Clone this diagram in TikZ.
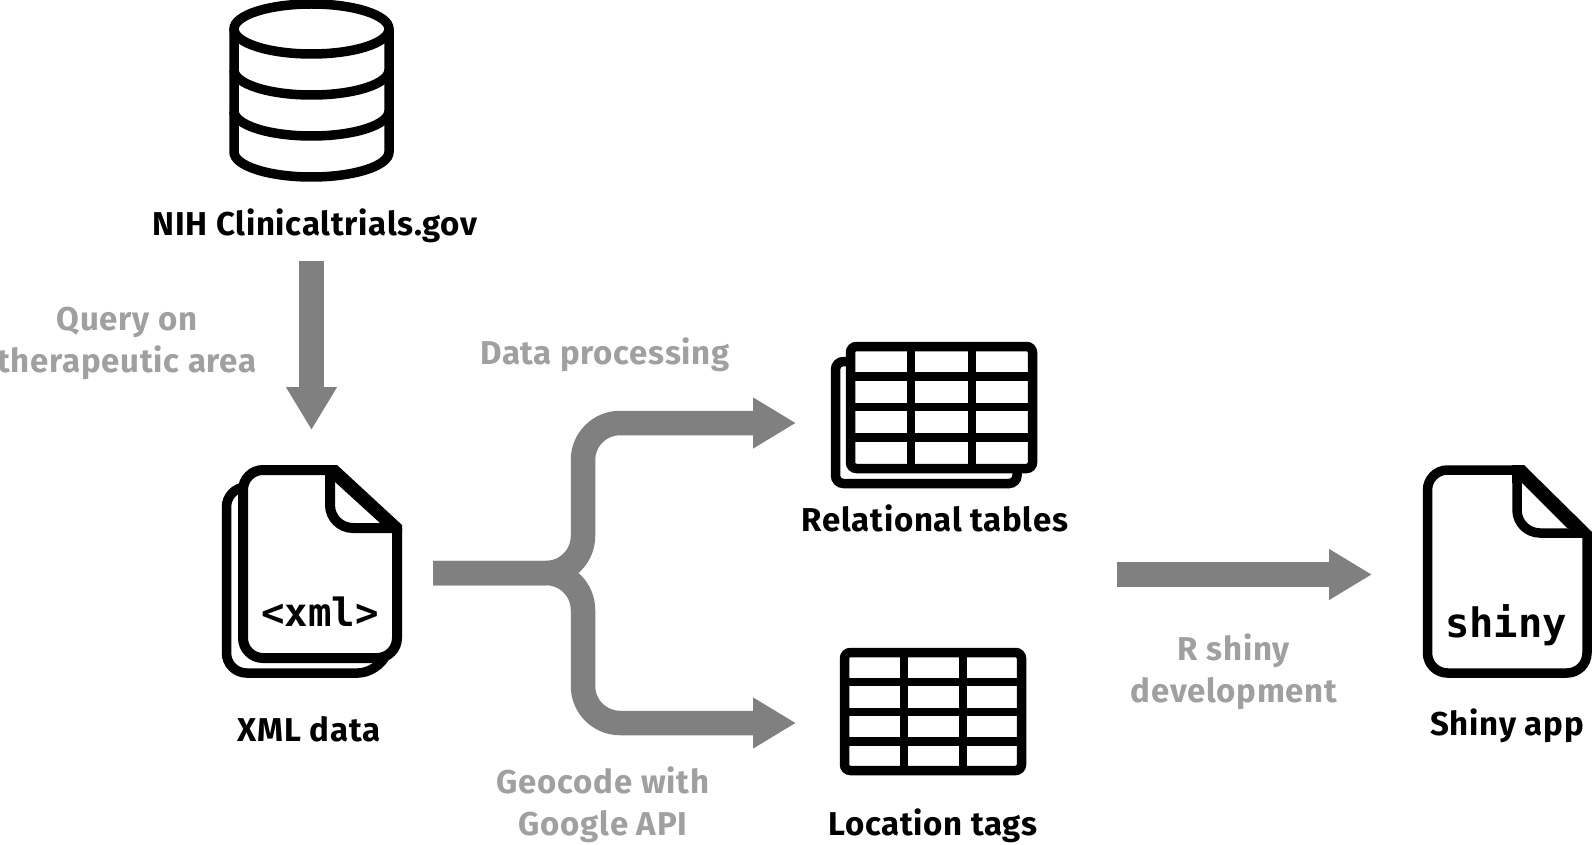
\documentclass[tikz,border=0pt]{standalone}
\usepackage{fontspec}
\setmainfont{Fira Sans}[LetterSpace=2.2]
\setmonofont{DejaVu Sans Mono}
\usetikzlibrary{arrows.meta}
\definecolor{flowgray}{HTML}{808080}
\definecolor{notegray}{HTML}{A0A0A0}
\tikzset{
  flow/.style={line width=24.5pt, draw=flowgray, -{Triangle[width=48pt,length=43pt]}, rounded corners=37pt},
  icon/.style={line width=9.5pt, draw=black},
  grid/.style={line width=8.5pt, draw=black},
  title/.style={font=\fontsize{33}{42}\selectfont\bfseries, text=black, inner sep=0pt, anchor=center},
  note/.style={font=\fontsize{33}{42}\selectfont\bfseries, text=notegray, inner sep=0pt, anchor=center},
  code/.style={font=\fontsize{39}{46}\selectfont\ttfamily\bfseries, text=black, inner sep=0pt, anchor=base}
}
\begin{document}
\begin{tikzpicture}[x=1pt,y=-1pt]
  \useasboundingbox (0,0) rectangle (1592,845);
  % Database
  \draw[icon] (311.5,29) ellipse [x radius=77.5, y radius=25];
  \draw[icon] (234,29) -- (234,152) arc [start angle=180, end angle=0, x radius=77.5, y radius=25] -- (389,29);
  \foreach \ypos in {70,111} {
    \draw[icon] (234,\ypos) arc [start angle=180, end angle=0, x radius=77.5, y radius=25];
  }
  % XML files
  \draw[icon, rounded corners=20pt] (243,487) -- (226.5,487) -- (226.5,673) -- (378,673) -- (386,655);
  \draw[icon, line width=10pt, rounded corners=20pt, fill=white] (333,470) -- (243,470) -- (243,658) -- (397,658) -- (397,528);
  \fill (325,465) -- (337,465) -- (402,525) -- (402,533) -- (380,523) -- (335,482) -- (325,482) -- cycle;
  \draw[icon, line width=10pt, rounded corners=23pt] (330,470) -- (330,528) -- (397,528);
  \node[code] (xmlcode) at (320,626) {<xml>};
  % Tables
  \draw[icon, rounded corners=8pt] (850,361.5) -- (835.5,361.5) -- (835.5,483.5) -- (1017,483.5) -- (1017,469);
  \draw[icon, rounded corners=6pt] (850.5,346.5) rectangle (1032.5,468.5);
  \foreach \xpos in {911,972} { \draw[grid] (\xpos,346.5) -- (\xpos,468.5); }
  \foreach \ypos in {376.7,407,437.7} { \draw[grid] (850.5,\ypos) -- (1032.5,\ypos); }
  \draw[icon, rounded corners=6pt] (844.5,652.5) rectangle (1021.5,770.5);
  \foreach \xpos in {904,963} { \draw[grid] (\xpos,652.5) -- (\xpos,770.5); }
  \foreach \ypos in {682,712,741.7} { \draw[grid] (844.5,\ypos) -- (1021.5,\ypos); }
  % Shiny file
  \draw[icon, rounded corners=20pt] (1520,470) -- (1427.5,470) -- (1427.5,673) -- (1587,673) -- (1587,533);
  \fill (1512,465) -- (1524,465) -- (1592,532) -- (1592,538) -- (1567,528) -- (1522,483) -- (1512,483) -- cycle;
  \draw[icon, rounded corners=23pt] (1517,470) -- (1517,533) -- (1587,533);
  \node[code, font=\fontsize{40.5}{48}\selectfont\ttfamily\bfseries] (shinycode) at (1506,637) {shiny};
  % Labels
  \node[title] (nih) at (315,226) {NIH Clinicaltrials.gov};
  \node[title] (xmldata) at (309,729) {XML data};
  \node[title] (relational) at (935,518) {Relational tables};
  \node[title] (location) at (933,826) {Location tags};
  \node[title] (shinyapp) at (1507,726) {Shiny app};
  \node[note, align=center] (query) at (127,343) {Query on\\therapeutic area};
  \node[note] (processing) at (605,355) {Data processing};
  \node[note, align=center] (geocode) at (603,805) {Geocode with\\Google API};
  \node[note, align=center] (rshiny) at (1234,672) {R shiny\\development};
  % Arrows
  \coordinate (dbout) at (311.5,261);
  \coordinate (xmlin) at (311.5,430);
  \coordinate (xmlout) at (433,573);
  \coordinate (split) at (583,573);
  \coordinate (tablesin) at (796,423);
  \coordinate (locationin) at (796,723);
  \coordinate (shinyout) at (1117,574.5);
  \coordinate (shinyin) at (1372,574.5);
  \draw[flow] (dbout) -- (xmlin);
  \draw[flow] (xmlout) -- (split) |- (tablesin);
  \draw[flow] (xmlout) -- (split) |- (locationin);
  \draw[flow] (shinyout) -- (shinyin);
\end{tikzpicture}
\end{document}
